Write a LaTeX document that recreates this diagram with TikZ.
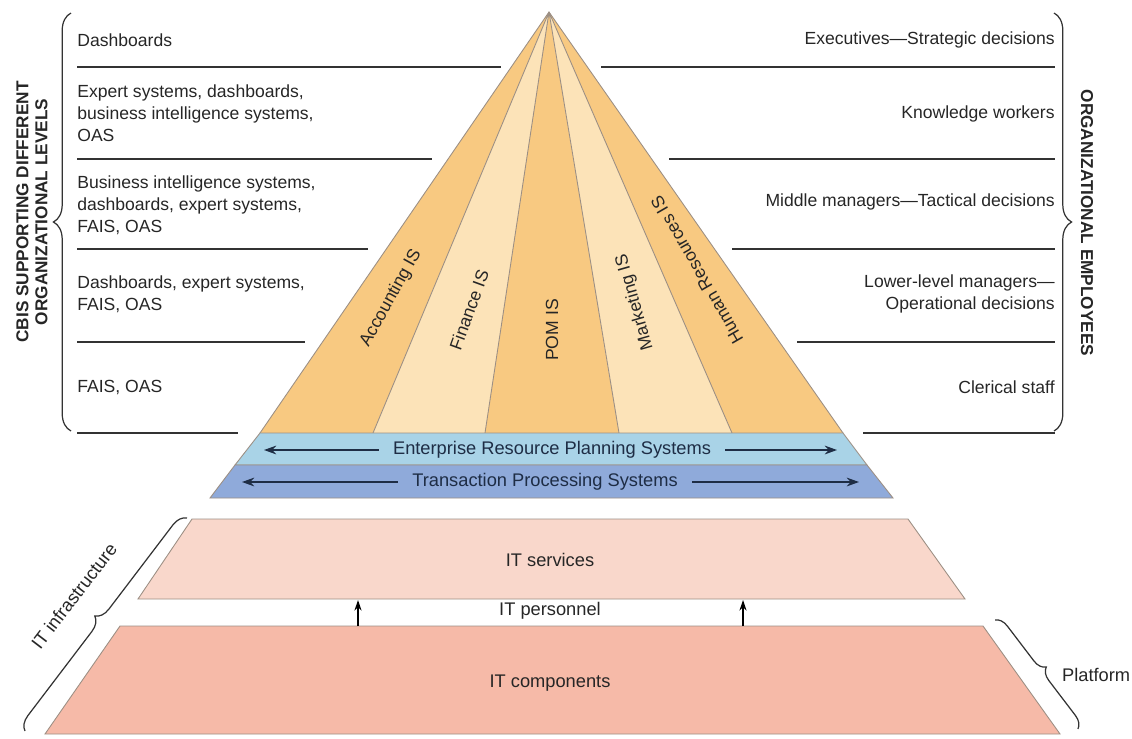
\documentclass[tikz,border=0pt]{standalone}
\usepackage{fontspec}
\setmainfont{Liberation Sans}
\usetikzlibrary{positioning, arrows.meta, decorations.pathreplacing, calc}
\definecolor{stripeA}{HTML}{F8C981}
\definecolor{stripeB}{HTML}{FCE3B8}
\definecolor{erpblue}{HTML}{A9D3E7}
\definecolor{tpsblue}{HTML}{8FAADA}
\definecolor{servpink}{HTML}{F9D7CB}
\definecolor{comppink}{HTML}{F6BAA8}
\definecolor{edgegray}{HTML}{9C8F84}
\definecolor{navy}{HTML}{1E2D45}
\tikzset{
  level/.style={font=\fontsize{10}{12.5}\selectfont, text=black!85, align=left, anchor=west, inner sep=0pt},
  role/.style={font=\fontsize{10}{12.5}\selectfont, text=black!85, align=right, anchor=east, inner sep=0pt},
  sepline/.style={draw=black!80, line width=0.7pt},
  layer/.style={draw=edgegray, line width=0.5pt},
  bandtext/.style={font=\fontsize{10.4}{12}\selectfont, text=navy, inner xsep=8pt, inner ysep=1pt},
  bandarrow/.style={draw=navy, line width=0.8pt, -{Stealth[length=7pt,width=5pt]}},
  uparrow/.style={draw=black, line width=0.7pt, -{Stealth[length=6pt,width=4pt]}},
  stripelabel/.style={font=\fontsize{10}{12}\selectfont, text=black!85, inner sep=0pt},
  layertext/.style={font=\fontsize{10.4}{12}\selectfont, text=black!85, inner sep=1pt},
  sidetitle/.style={font=\fontsize{9.8}{10.8}\selectfont\bfseries, text=black!85, align=center, inner sep=0pt},
  bracket/.style={draw=black!80, line width=0.7pt, decorate, decoration={brace, amplitude=#1}},
  bracket/.default=10pt
}

\begin{document}
\begin{tikzpicture}[x=0.02cm, y=-0.02cm]
  \useasboundingbox (0,0) rectangle (1132,738);

  % pyramid
  \coordinate (apex) at (549,12);
  \coordinate (bl) at (260,433);
  \coordinate (d1) at (373,433);
  \coordinate (d2) at (485,433);
  \coordinate (d3) at (619,433);
  \coordinate (d4) at (732,433);
  \coordinate (br) at (843,433);
  \fill[stripeA] (apex) -- (bl) -- (d1) -- cycle;
  \fill[stripeB] (apex) -- (d1) -- (d2) -- cycle;
  \fill[stripeA] (apex) -- (d2) -- (d3) -- cycle;
  \fill[stripeB] (apex) -- (d3) -- (d4) -- cycle;
  \fill[stripeA] (apex) -- (d4) -- (br) -- cycle;
  \draw[layer] (bl) -- (apex) -- (br);
  \draw[layer] (apex) -- (d1) (apex) -- (d2) (apex) -- (d3) (apex) -- (d4);

  \node[stripelabel, rotate=61] (acc) at (391,298) {Accounting IS};
  \node[stripelabel, rotate=70] (fin) at (469,310) {Finance IS};
  \node[stripelabel, rotate=90] (pom) at (552,330) {POM IS};
  \node[stripelabel, rotate=106] (mkt) at (635,302) {Marketing IS};
  \node[stripelabel, rotate=120] (hrs) at (697,270) {Human Resources IS};

  % ERP and TPS bands
  \filldraw[layer, fill=erpblue] (bl) -- (br) -- (867,465) -- (235,465) -- cycle;
  \filldraw[layer, fill=tpsblue] (235,465) -- (867,465) -- (893,498) -- (210,498) -- cycle;
  \node[bandtext] (erp) at (552,450) {Enterprise Resource Planning Systems};
  \node[bandtext] (tps) at (545,482) {Transaction Processing Systems};
  \coordinate (erpL) at (264,450);
  \coordinate (erpR) at (837,450);
  \coordinate (tpsL) at (242,482);
  \coordinate (tpsR) at (859,482);
  \draw[bandarrow] (erp.west) -- (erpL);
  \draw[bandarrow] (erp.east) -- (erpR);
  \draw[bandarrow] (tps.west) -- (tpsL);
  \draw[bandarrow] (tps.east) -- (tpsR);

  % IT infrastructure
  \filldraw[layer, fill=servpink] (192,519) -- (908,519) -- (965,599) -- (138,599) -- cycle;
  \filldraw[layer, fill=comppink] (120,626) -- (983,626) -- (1060,734) -- (45,734) -- cycle;
  \node[layertext] (serv) at (550,560) {IT services};
  \node[layertext] (pers) at (550,611) {IT personnel};
  \node[layertext] (comp) at (550,683) {IT components};
  \coordinate (upL0) at (358,626);
  \coordinate (upL1) at (358,600);
  \coordinate (upR0) at (743,626);
  \coordinate (upR1) at (743,600);
  \draw[uparrow] (upL0) -- (upL1);
  \draw[uparrow] (upR0) -- (upR1);

  \draw[bracket=8pt] (25,731) -- (187,518);
  \node[layertext, rotate=52.6] (infra) at (74,596) {IT infrastructure};
  \draw[bracket=7pt] (995,620) -- (1078,729);
  \node[layertext, anchor=west] (plat) at (1060,675) {Platform};

  % left column
  \node[level] (l1) at (77,40) {Dashboards};
  \node[level] (l2) at (77,113) {Expert systems, dashboards,\\business intelligence systems,\\OAS};
  \node[level] (l3) at (77,205) {Business intelligence systems,\\dashboards, expert systems,\\FAIS, OAS};
  \node[level] (l4) at (77,294) {Dashboards, expert systems,\\FAIS, OAS};
  \node[level] (l5) at (77,387) {FAIS, OAS};
  \draw[sepline] (77,67) -- (501,67);
  \draw[sepline] (77,159) -- (432,159);
  \draw[sepline] (77,249) -- (368,249);
  \draw[sepline] (77,342) -- (305,342);
  \draw[sepline] (77,433) -- (238,433);
  \draw[bracket=10pt] (71,431) -- (71,13);
  \node[sidetitle, rotate=90] (cbis) at (32,212) {CBIS SUPPORTING DIFFERENT\\ORGANIZATIONAL LEVELS};

  % right column
  \node[role] (r1) at (1055,40) {Executives---Strategic decisions};
  \node[role] (r2) at (1055,114) {Knowledge workers};
  \node[role] (r3) at (1055,202) {Middle managers---Tactical decisions};
  \node[role] (r4) at (1055,294) {Lower-level managers---\\Operational decisions};
  \node[role] (r5) at (1055,387) {Clerical staff};
  \draw[sepline] (601,67) -- (1055,67);
  \draw[sepline] (669,159) -- (1055,159);
  \draw[sepline] (732,249) -- (1055,249);
  \draw[sepline] (797,342) -- (1055,342);
  \draw[sepline] (863,433) -- (1055,433);
  \draw[bracket=10pt] (1054,13) -- (1054,431);
  \node[sidetitle, rotate=-90] (emp) at (1087,223) {ORGANIZATIONAL EMPLOYEES};
\end{tikzpicture}
\end{document}
